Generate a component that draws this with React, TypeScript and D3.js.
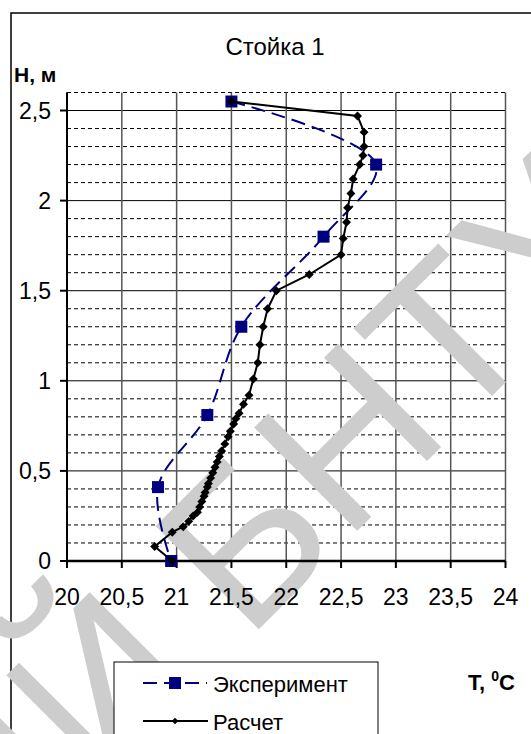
import React, { useEffect } from 'react';
import * as d3 from 'd3';

// temperature axis ticks and height axis ticks
const xTicks = [20, 20.5, 21, 21.5, 22, 22.5, 23, 23.5, 24];
const yTicks = [0, 0.5, 1, 1.5, 2, 2.5];
const fmt = (v: number) => String(v).replace('.', ',');

// Эксперимент (squares, dashed)
const expT = [21.5, 22.82, 22.34, 21.59, 21.28, 20.83, 20.95];
const expH = [2.55, 2.2, 1.8, 1.3, 0.81, 0.41, 0];

// Расчет (diamonds, solid)
const calcT = [21.5, 22.65, 22.71, 22.71, 22.7, 22.67, 22.61, 22.59, 22.56, 22.55, 22.52, 22.5, 22.21, 21.91, 21.83, 21.79, 21.76, 21.74, 21.7, 21.66, 21.61, 21.57, 21.54, 21.52, 21.49, 21.47, 21.44, 21.41, 21.39, 21.37, 21.35, 21.33, 21.31, 21.29, 21.28, 21.26, 21.25, 21.23, 21.21, 21.19, 21.15, 21.11, 21.06, 20.96, 20.8, 20.96];
const calcH = [2.55, 2.47, 2.38, 2.3, 2.25, 2.2, 2.12, 2.04, 1.96, 1.88, 1.79, 1.7, 1.59, 1.5, 1.4, 1.3, 1.2, 1.1, 1.01, 0.92, 0.87, 0.82, 0.79, 0.76, 0.72, 0.69, 0.65, 0.61, 0.58, 0.55, 0.52, 0.49, 0.46, 0.43, 0.41, 0.38, 0.36, 0.33, 0.3, 0.27, 0.25, 0.22, 0.19, 0.16, 0.08, 0];

const W = 531;
const H = 734;
const font = '"Liberation Sans", Arial, sans-serif';

export default function App() {
  useEffect(() => {
    document.body.style.margin = '0';
  }, []);

  const x = d3.scaleLinear().domain([20, 24]).range([67, 505.5]);
  const y = d3.scaleLinear().domain([0, 2.6]).range([561, 92.5]);

  const minor = d3.range(1, 27).map(i => i / 10).filter(v => Math.round(v * 10) % 5 !== 0);

  const smooth = d3.line<[number, number]>()
    .x(d => x(d[0]))
    .y(d => y(d[1]))
    .curve(d3.curveCatmullRom.alpha(0.5));
  const straight = d3.line<[number, number]>()
    .x(d => x(d[0]))
    .y(d => y(d[1]));

  const expPts: [number, number][] = expT.map((t, i) => [t, expH[i]]);
  const calcPts: [number, number][] = calcT.map((t, i) => [t, calcH[i]]);

  const diamond = d3.symbol().type(d3.symbolSquare).size(40)();

  return (
    <svg width={W} height={H} style={{ display: 'block', background: '#fff' }} fontFamily={font}>
      <rect x={11} y={13} width={540} height={760} fill="#fff" stroke="#000" strokeWidth={1.5} />

      <text x={275} y={55} fontSize={24} textAnchor="middle">Стойка 1</text>
      <text x={14} y={82} fontSize={21} fontWeight="bold">H, м</text>

      {/* grid */}
      {minor.map(v => (
        <line key={'m' + v} x1={x(20)} x2={x(24)} y1={y(v)} y2={y(v)} stroke="#000" strokeWidth={1} strokeDasharray="4,3" />
      ))}
      {yTicks.map(v => (
        <line key={'h' + v} x1={x(20)} x2={x(24)} y1={y(v)} y2={y(v)} stroke="#000" strokeWidth={1} />
      ))}
      {xTicks.map(v => (
        <line key={'v' + v} x1={x(v)} x2={x(v)} y1={y(0)} y2={y(2.6)} stroke="#555" strokeWidth={1.5} />
      ))}

      {/* watermark */}
      <g transform="translate(640,248) rotate(-45)">
        <text fontSize={212} fill="#cdcdcd" textAnchor="end">РЕПОЗИТОРИЙ БНТУ</text>
      </g>

      {/* axes */}
      <line x1={x(20)} x2={x(20)} y1={y(0)} y2={y(2.6)} stroke="#000" strokeWidth={2} />
      <line x1={x(20)} x2={x(24)} y1={y(0)} y2={y(0)} stroke="#000" strokeWidth={2.5} />
      {yTicks.map(v => (
        <g key={'yt' + v}>
          <line x1={x(20) - 7} x2={x(20)} y1={y(v)} y2={y(v)} stroke="#000" strokeWidth={2} />
          <text x={51} y={y(v) + 8} fontSize={23} textAnchor="end">{fmt(v)}</text>
        </g>
      ))}
      {xTicks.map(v => (
        <g key={'xt' + v}>
          <line x1={x(v)} x2={x(v)} y1={y(0)} y2={y(0) + 7} stroke="#000" strokeWidth={2} />
          <text x={x(v)} y={605} fontSize={23} textAnchor="middle">{fmt(v)}</text>
        </g>
      ))}

      {/* series */}
      <path d={smooth(expPts) || ''} fill="none" stroke="#000080" strokeWidth={2} strokeDasharray="14,7" />
      {expPts.map((p, i) => (
        <rect key={'e' + i} x={x(p[0]) - 6} y={y(p[1]) - 6} width={12} height={12} fill="#000080" />
      ))}
      <path d={straight(calcPts) || ''} fill="none" stroke="#000" strokeWidth={2} />
      {calcPts.map((p, i) => (
        <path key={'c' + i} d={diamond || ''} transform={`translate(${x(p[0])},${y(p[1])}) rotate(45)`} fill="#000" />
      ))}

      {/* legend */}
      <rect x={114} y={662} width={264} height={110} fill="#fff" stroke="#000" strokeWidth={1} />
      <line x1={143} x2={207} y1={683} y2={683} stroke="#000080" strokeWidth={2} strokeDasharray="14,7" />
      <rect x={169} y={677} width={12} height={12} fill="#000080" />
      <text x={213} y={692} fontSize={22}>Эксперимент</text>
      <line x1={143} x2={208} y1={721} y2={721} stroke="#000" strokeWidth={2} />
      <path d={d3.symbol().type(d3.symbolSquare).size(22)() || ''} transform="translate(175,721) rotate(45)" fill="#000" />
      <text x={213} y={730} fontSize={22}>Расчет</text>

      <text x={468} y={690} fontSize={22} fontWeight="bold">
        T, <tspan fontSize={14} dy={-9}>0</tspan><tspan dy={9}>C</tspan>
      </text>
    </svg>
  );
}
